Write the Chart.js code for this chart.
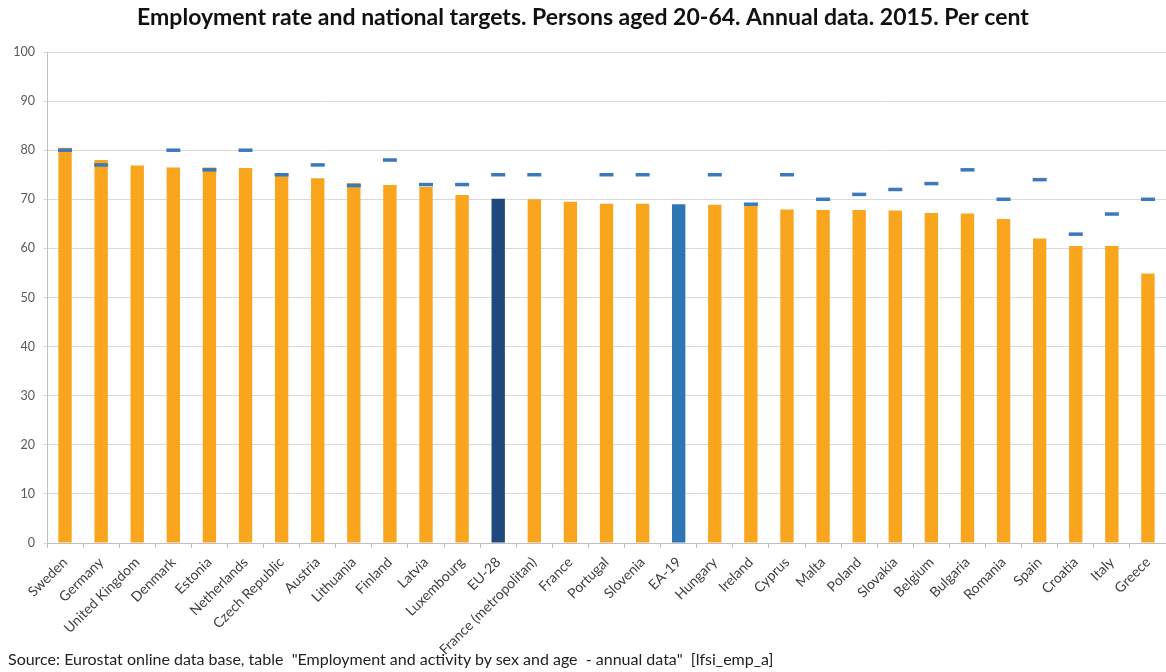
<!DOCTYPE html>
<html>
<head>
<meta charset="utf-8">
<script src="https://cdn.jsdelivr.net/npm/chart.js@4/dist/chart.umd.min.js"></script>
<style>
  html, body { margin: 0; padding: 0; background: #fff; }
  #wrap { position: relative; width: 1166px; height: 672px; }
  #source { position: absolute; left: 8px; top: 649px; font-family: Lato, "Open Sans", sans-serif; font-size: 16px; color: #222; white-space: pre; }
</style>
</head>
<body>
<div id="wrap">
  <canvas id="c" width="1166" height="672"></canvas>
  <div id="source">Source: Eurostat online data base, table  "Employment and activity by sex and age  - annual data"  [lfsi_emp_a]</div>
</div>
<script>
const countries = ["Sweden","Germany","United Kingdom","Denmark","Estonia","Netherlands","Czech Republic","Austria","Lithuania","Finland","Latvia","Luxembourg","EU-28","France (metropolitan)","France","Portugal","Slovenia","EA-19","Hungary","Ireland","Cyprus","Malta","Poland","Slovakia","Belgium","Bulgaria","Romania","Spain","Croatia","Italy","Greece"];
const employmentRate = [80.5,78.0,76.9,76.5,76.5,76.4,74.8,74.3,73.3,72.9,72.5,70.9,70.1,70.0,69.5,69.1,69.1,69.0,68.9,68.7,67.9,67.8,67.8,67.7,67.2,67.1,66.0,62.0,60.5,60.5,54.9];
const nationalTarget = [80,77,null,80,76,80,75,77,72.8,78,73,73,75,75,null,75,75,null,75,69,75,70,71,72,73.2,76,70,74,62.9,67,70];
const yTicks = [0,10,20,30,40,50,60,70,80,90,100];

const ORANGE = '#F9A51E', NAVY = '#1F497D', BLUE = '#2E75B6', DASH = '#3B78BC';
const barColors = countries.map(c => c === 'EU-28' ? NAVY : (c === 'EA-19' ? BLUE : ORANGE));

const FONT = 'Lato, "Open Sans", sans-serif';

new Chart(document.getElementById('c'), {
  data: {
    labels: countries,
    datasets: [
      {
        type: 'bar',
        label: 'Employment rate',
        data: employmentRate,
        backgroundColor: barColors,
        borderWidth: 0,
        barPercentage: 0.37,
        categoryPercentage: 1.0,
        order: 1
      },
      {
        type: 'line',
        label: 'National target',
        data: nationalTarget,
        showLine: false,
        pointStyle: 'line',
        pointRadius: 7,
        pointHoverRadius: 7,
        pointBorderWidth: 3.5,
        borderColor: DASH,
        backgroundColor: DASH,
        clip: false,
        order: 0
      }
    ]
  },
  options: {
    responsive: false,
    animation: false,
    layout: { autoPadding: false, padding: { left: 0, right: 0, top: 0, bottom: 0 } },
    plugins: {
      legend: { display: false },
      tooltip: { enabled: false },
      title: {
        display: true,
        text: 'Employment rate and national targets. Persons aged 20-64. Annual data. 2015. Per cent',
        color: '#111',
        font: { family: FONT, size: 23, weight: 'bold' },
        padding: { top: 4, bottom: 20.4 }
      }
    },
    scales: {
      x: {
        offset: true,
        grid: { display: true, offset: true, drawOnChartArea: false, drawTicks: true, tickLength: 5, color: '#BFBFBF' },
        border: { display: true, color: '#BFBFBF' },
        ticks: {
          autoSkip: false,
          minRotation: 45,
          maxRotation: 45,
          padding: 6,
          color: '#404040',
          font: { family: FONT, size: 14 }
        },
        afterFit: (s) => { s.height = 129; s.paddingLeft = 0; s.paddingRight = 0; }
      },
      y: {
        min: 0,
        max: 100,
        afterBuildTicks: (s) => { s.ticks = yTicks.map(v => ({ value: v })); },
        grid: { color: '#D9D9D9', lineWidth: 1, tickLength: 4 },
        border: { display: true, color: '#BFBFBF' },
        ticks: { padding: 8, color: '#595959', font: { family: FONT, size: 12.5 } },
        afterFit: (s) => { s.width = 47; s.paddingTop = 0; s.paddingBottom = 0; }
      }
    }
  }
});
</script>
</body>
</html>
